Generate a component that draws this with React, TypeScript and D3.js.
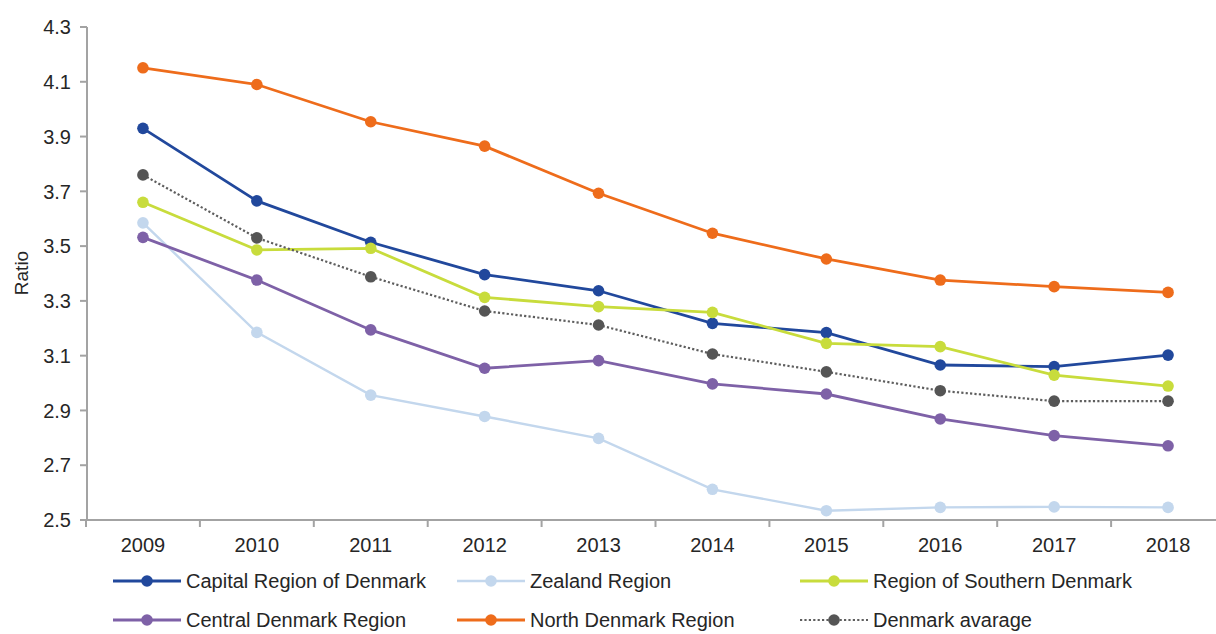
import * as d3 from "d3";

const years = ["2009", "2010", "2011", "2012", "2013", "2014", "2015", "2016", "2017", "2018"];
const yTicks = [2.5, 2.7, 2.9, 3.1, 3.3, 3.5, 3.7, 3.9, 4.1, 4.3];

const capital = [3.93, 3.665, 3.514, 3.396, 3.337, 3.218, 3.184, 3.066, 3.06, 3.102];
const zealand = [3.585, 3.185, 2.956, 2.878, 2.798, 2.612, 2.534, 2.546, 2.548, 2.546];
const southern = [3.66, 3.486, 3.492, 3.313, 3.279, 3.258, 3.145, 3.133, 3.029, 2.989];
const central = [3.532, 3.376, 3.194, 3.054, 3.082, 2.997, 2.96, 2.869, 2.808, 2.771];
const north = [4.151, 4.09, 3.954, 3.865, 3.693, 3.547, 3.453, 3.376, 3.352, 3.331];
const average = [3.76, 3.53, 3.388, 3.263, 3.212, 3.106, 3.041, 2.972, 2.934, 2.934];

interface Series {
  name: string;
  values: number[];
  color: string;
  marker: string;
  width: number;
  dotted?: boolean;
}

const series: Series[] = [
  { name: "Capital Region of Denmark", values: capital, color: "#21489c", marker: "#21489c", width: 2.8 },
  { name: "Zealand Region", values: zealand, color: "#c3d7ed", marker: "#c3d7ed", width: 2.4 },
  { name: "Region of Southern Denmark", values: southern, color: "#c8dc3c", marker: "#c8dc3c", width: 2.8 },
  { name: "Central Denmark Region", values: central, color: "#7e61a7", marker: "#7e61a7", width: 2.8 },
  { name: "North Denmark Region", values: north, color: "#ee6c1b", marker: "#ee6c1b", width: 2.8 },
  { name: "Denmark avarage", values: average, color: "#5e5e5e", marker: "#555555", width: 2.2, dotted: true },
];

const W = 1216;
const H = 634;
const FONT = "'Liberation Sans', Arial, sans-serif";
const AXIS = "#a3a3a3";
const TEXT = "#262626";

export default function App() {
  const x = d3.scaleBand<string>().domain(years).range([86, 1225]).padding(0);
  const y = d3.scaleLinear().domain([2.5, 4.3]).range([520, 27]);
  const cx = (yr: string) => (x(yr) ?? 0) + x.bandwidth() / 2;

  // straight segments, as in the source
  const line = d3
    .line<number>()
    .x((_, i) => cx(years[i]))
    .y((d) => y(d));

  const bounds = years.map((yr) => x(yr) ?? 0).concat([(x(years[years.length - 1]) ?? 0) + x.bandwidth()]);

  const legendCols = [113, 457, 800];
  const legendRows = [581, 620];

  return (
    <>
      <style>{`body{margin:0;background:#fff}`}</style>
      <svg width={W} height={H} style={{ display: "block", fontFamily: FONT }}>
        <rect width={W} height={H} fill="#fff" />

        {/* y axis */}
        <line x1={87} x2={87} y1={y(4.3)} y2={y(2.5)} stroke={AXIS} strokeWidth={2} />
        {yTicks.map((t) => (
          <g key={t}>
            <line x1={80} x2={87} y1={y(t)} y2={y(t)} stroke={AXIS} strokeWidth={2} />
            <text x={71} y={y(t)} dy="0.36em" textAnchor="end" fontSize={20} fill={TEXT}>
              {t.toFixed(1)}
            </text>
          </g>
        ))}
        <text transform="translate(28, 273) rotate(-90)" textAnchor="middle" fontSize={19} fill={TEXT}>
          Ratio
        </text>

        {/* x axis */}
        <line x1={86} x2={W} y1={520} y2={520} stroke={AXIS} strokeWidth={2} />
        {bounds.map((b, i) => (
          <line key={i} x1={b} x2={b} y1={520} y2={527} stroke={AXIS} strokeWidth={2} />
        ))}
        {years.map((yr) => (
          <text key={yr} x={cx(yr)} y={545} dy="0.36em" textAnchor="middle" fontSize={20} fill={TEXT}>
            {yr}
          </text>
        ))}

        {/* series */}
        {series.map((s) => (
          <g key={s.name}>
            <path
              d={line(s.values) ?? ""}
              fill="none"
              stroke={s.color}
              strokeWidth={s.width}
              strokeDasharray={s.dotted ? "2.2,2.2" : undefined}
            />
            {s.values.map((v, i) => (
              <circle key={i} cx={cx(years[i])} cy={y(v)} r={5.8} fill={s.marker} />
            ))}
          </g>
        ))}

        {/* legend */}
        {series.map((s, i) => {
          const lx = legendCols[i % 3];
          const ly = legendRows[Math.floor(i / 3)];
          return (
            <g key={s.name}>
              <line
                x1={lx}
                x2={lx + 68}
                y1={ly}
                y2={ly}
                stroke={s.color}
                strokeWidth={s.width}
                strokeDasharray={s.dotted ? "2.2,2.2" : undefined}
              />
              <circle cx={lx + 34} cy={ly} r={5.8} fill={s.marker} />
              <text x={lx + 73} y={ly} dy="0.36em" fontSize={20} fill={TEXT}>
                {s.name}
              </text>
            </g>
          );
        })}
      </svg>
    </>
  );
}
